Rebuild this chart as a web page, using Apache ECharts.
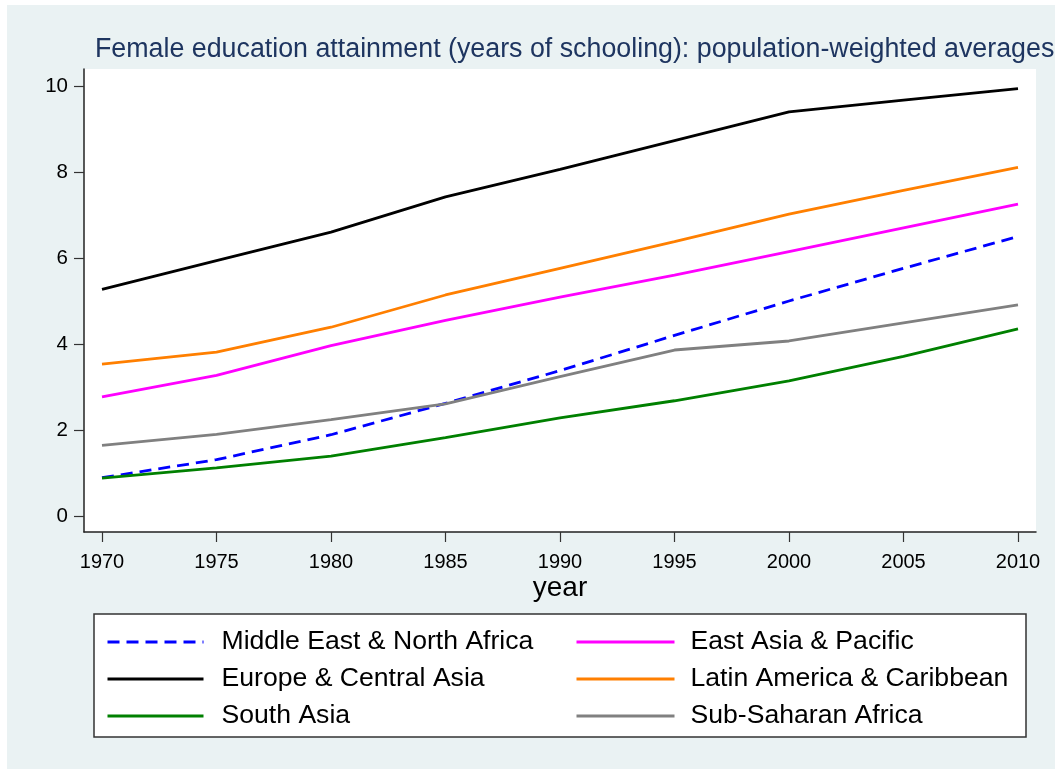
<!DOCTYPE html>
<html>
<head>
<meta charset="utf-8">
<script src="https://cdn.jsdelivr.net/npm/echarts@6/dist/echarts.min.js"></script>
<style>
  html, body { margin: 0; padding: 0; background: #ffffff; }
  #chart { position: absolute; left: 7px; top: 5px; width: 1048px; height: 764px; }
</style>
</head>
<body>
<div id="chart"></div>
<script>
// Female education attainment, population-weighted regional averages (years of schooling)
const years = [1970, 1975, 1980, 1985, 1990, 1995, 2000, 2005, 2010];
const yTicks = [0, 2, 4, 6, 8, 10];

const middleEastNorthAfrica = [0.89, 1.31, 1.89, 2.62, 3.38, 4.20, 5.00, 5.76, 6.50];
const eastAsiaPacific       = [2.77, 3.27, 3.96, 4.55, 5.09, 5.60, 6.15, 6.70, 7.25];
const europeCentralAsia     = [5.27, 5.94, 6.60, 7.42, 8.06, 8.73, 9.40, 9.67, 9.94];
const latinAmericaCaribbean = [3.53, 3.81, 4.39, 5.14, 5.76, 6.38, 7.02, 7.57, 8.11];
const southAsia             = [0.88, 1.12, 1.39, 1.82, 2.28, 2.68, 3.14, 3.71, 4.35];
const subSaharanAfrica      = [1.64, 1.90, 2.24, 2.61, 3.24, 3.86, 4.07, 4.49, 4.91];

const names = {
  mena: 'Middle East & North Africa',
  eap: 'East Asia & Pacific',
  eca: 'Europe & Central Asia',
  lac: 'Latin America & Caribbean',
  sa: 'South Asia',
  ssa: 'Sub-Saharan Africa'
};

const FONT = '"Liberation Sans", Arial, Helvetica, sans-serif';

function pairs(values) {
  return years.map((y, i) => [y, values[i]]);
}

function lineSeries(name, values, color, dashed) {
  return {
    name: name,
    type: 'line',
    data: pairs(values),
    symbol: 'none',
    showSymbol: false,
    smooth: false,
    lineStyle: { color: color, width: 2.8, type: dashed ? [12, 7] : 'solid', cap: 'butt' },
    itemStyle: { color: color },
    emphasis: { disabled: true },
    z: 3
  };
}

function legendBlock(left, textPad, itemWidth, items) {
  return {
    orient: 'vertical',
    left: left, top: 622, padding: 0,
    itemWidth: itemWidth, itemHeight: 14, itemGap: 7,
    itemStyle: { opacity: 0 },
    lineStyle: { width: 3 },
    textStyle: { fontFamily: FONT, fontSize: 26.6, color: '#000', lineHeight: 30, padding: [0, 0, 0, textPad] },
    data: items
  };
}

const chart = echarts.init(document.getElementById('chart'), null, { renderer: 'canvas' });
chart.setOption({
  backgroundColor: '#EAF2F3',
  animation: false,
  title: {
    text: 'Female education attainment (years of schooling): population-weighted averages',
    left: 88,
    top: 31,
    padding: 0,
    textStyle: { fontFamily: FONT, fontSize: 26.8, fontWeight: 'normal', color: '#1E3560' }
  },
  grid: {
    left: 77, top: 64, right: 19, bottom: 237,
    show: true, backgroundColor: '#ffffff', borderWidth: 0
  },
  xAxis: {
    type: 'value',
    min: 1969.214, max: 2010.786,
    name: 'year',
    nameLocation: 'middle',
    nameGap: 42,
    nameMoveOverlap: false,
    nameTextStyle: { fontFamily: FONT, fontSize: 28, color: '#000' },
    axisLine: { show: true, onZero: false, lineStyle: { color: '#222', width: 1.5 } },
    axisTick: { show: true, length: 10, customValues: years, lineStyle: { color: '#333', width: 1.2 } },
    axisLabel: {
      customValues: years, margin: 20, fontFamily: FONT, fontSize: 20, color: '#000',
      formatter: (v) => String(v)
    },
    splitLine: { show: false }
  },
  yAxis: {
    type: 'value',
    min: -0.372, max: 10.395,
    axisLine: { show: true, onZero: false, lineStyle: { color: '#222', width: 1.5 } },
    axisTick: { show: true, length: 10, customValues: yTicks, lineStyle: { color: '#333', width: 1.2 } },
    axisLabel: {
      customValues: yTicks, margin: 16, fontFamily: FONT, fontSize: 20.5, color: '#000',
      formatter: (v) => String(v)
    },
    splitLine: { show: false }
  },
  graphic: [{
    type: 'rect',
    z: 1,
    shape: { x: 87, y: 609, width: 932, height: 123 },
    style: { fill: '#ffffff', stroke: '#333333', lineWidth: 1.5 }
  }],
  legend: [
    legendBlock(99, 13, 96, [names.mena, names.eca, names.sa]),
    legendBlock(568, 11, 98, [names.eap, names.lac, names.ssa])
  ],
  series: [
    lineSeries(names.mena, middleEastNorthAfrica, '#0000FF', true),
    lineSeries(names.eap, eastAsiaPacific, '#FF00FF', false),
    lineSeries(names.eca, europeCentralAsia, '#000000', false),
    lineSeries(names.lac, latinAmericaCaribbean, '#FF7F00', false),
    lineSeries(names.sa, southAsia, '#008000', false),
    lineSeries(names.ssa, subSaharanAfrica, '#808080', false)
  ]
});
</script>
</body>
</html>
